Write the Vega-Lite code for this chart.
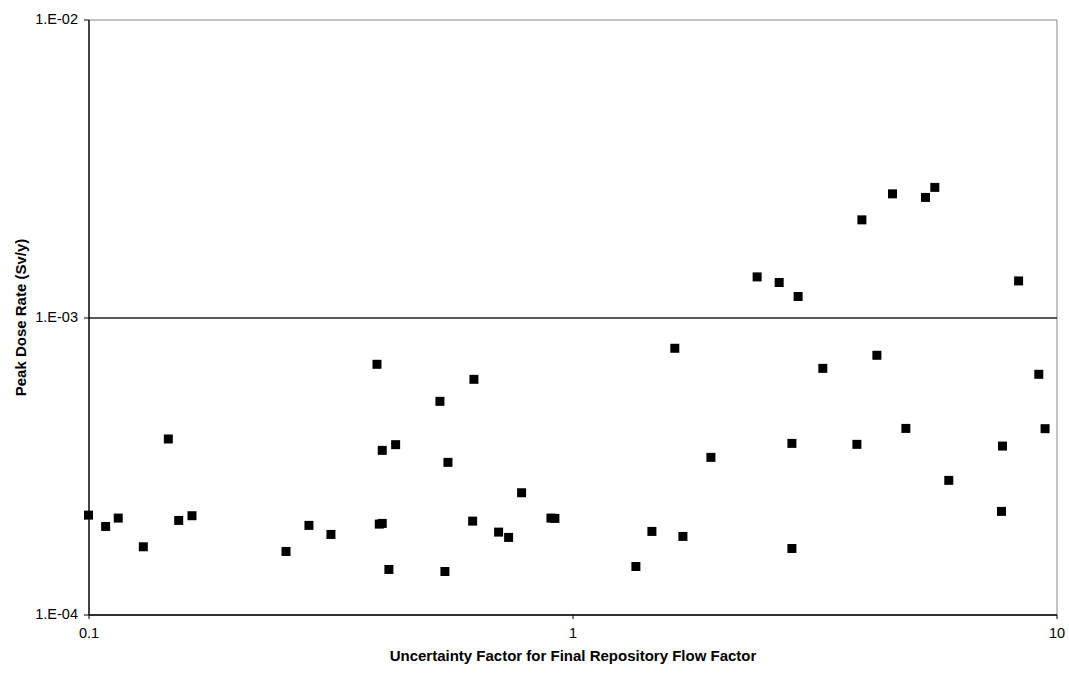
{
  "$schema": "https://vega.github.io/schema/vega-lite/v6.json",
  "width": 968,
  "height": 595,
  "autosize": {"type": "none"},
  "padding": {"left": 88.5, "top": 19.5, "right": 12, "bottom": 60},
  "background": "white",
  "config": {
    "view": {"stroke": "#868686", "strokeWidth": 1},
    "font": "Liberation Sans"
  },
  "data": {
    "values": [
      {"f": 0.1, "d": 0.0002158},
      {"f": 0.1085, "d": 0.0001977},
      {"f": 0.1152, "d": 0.0002109},
      {"f": 0.1298, "d": 0.0001689},
      {"f": 0.1462, "d": 0.000389},
      {"f": 0.1536, "d": 0.0002071},
      {"f": 0.1636, "d": 0.0002148},
      {"f": 0.2559, "d": 0.0001629},
      {"f": 0.2854, "d": 0.0001993},
      {"f": 0.3169, "d": 0.0001858},
      {"f": 0.3945, "d": 0.0006935},
      {"f": 0.3988, "d": 0.0002013},
      {"f": 0.4045, "d": 0.0002024},
      {"f": 0.4045, "d": 0.0003562},
      {"f": 0.4175, "d": 0.0001417},
      {"f": 0.4311, "d": 0.0003723},
      {"f": 0.5322, "d": 0.0005206},
      {"f": 0.545, "d": 0.0001395},
      {"f": 0.5529, "d": 0.0003246},
      {"f": 0.6257, "d": 0.0006173},
      {"f": 0.6218, "d": 0.000206},
      {"f": 0.7036, "d": 0.0001892},
      {"f": 0.7379, "d": 0.0001816},
      {"f": 0.7849, "d": 0.0002566},
      {"f": 0.9025, "d": 0.0002109},
      {"f": 0.9197, "d": 0.0002104},
      {"f": 1.352, "d": 0.000145},
      {"f": 1.459, "d": 0.0001902},
      {"f": 1.627, "d": 0.000785},
      {"f": 1.691, "d": 0.000183},
      {"f": 1.932, "d": 0.0003374},
      {"f": 2.407, "d": 0.001364},
      {"f": 2.673, "d": 0.001306},
      {"f": 2.84, "d": 0.0001667},
      {"f": 2.84, "d": 0.000376},
      {"f": 2.925, "d": 0.001172},
      {"f": 3.29, "d": 0.000672},
      {"f": 3.869, "d": 0.0003732},
      {"f": 3.962, "d": 0.002121},
      {"f": 4.255, "d": 0.0007436},
      {"f": 4.583, "d": 0.002594},
      {"f": 4.884, "d": 0.0004222},
      {"f": 5.362, "d": 0.002523},
      {"f": 5.605, "d": 0.002727},
      {"f": 5.99, "d": 0.0002824},
      {"f": 7.735, "d": 0.0003683},
      {"f": 7.698, "d": 0.0002221},
      {"f": 8.35, "d": 0.001322},
      {"f": 9.192, "d": 0.0006418},
      {"f": 9.471, "d": 0.0004213}
    ]
  },
  "mark": {"type": "square", "size": 81, "color": "black", "opacity": 1, "filled": true, "clip": false},
  "encoding": {
    "x": {
      "field": "f",
      "type": "quantitative",
      "scale": {"type": "log", "domain": [0.1, 10], "nice": false},
      "axis": {
        "title": "Uncertainty Factor for Final Repository Flow Factor",
        "values": [0.1, 1, 10],
        "labelExpr": "datum.value < 0.5 ? '0.1' : datum.value < 5 ? '1' : '10'",
        "labelFlush": false,
        "labelOverlap": false,
        "grid": false,
        "domainColor": "black",
        "domainWidth": 1.3,
        "tickColor": "black",
        "tickSize": 4,
        "labelPadding": 8,
        "labelFontSize": 14.5,
        "labelColor": "black",
        "labelFont": "Liberation Sans",
        "titleFont": "Liberation Sans",
        "titleFontSize": 15,
        "titleFontWeight": "bold",
        "titleColor": "black",
        "titlePadding": 8
      }
    },
    "y": {
      "field": "d",
      "type": "quantitative",
      "scale": {"type": "log", "domain": [0.0001, 0.01], "nice": false},
      "axis": {
        "title": "Peak Dose Rate (Sv/y)",
        "values": [0.0001, 0.001, 0.01],
        "labelExpr": "datum.value >= 0.005 ? '1.E-02' : datum.value >= 0.0005 ? '1.E-03' : '1.E-04'",
        "labelFlush": false,
        "labelOverlap": false,
        "grid": true,
        "gridColor": {"condition": {"test": "datum.value > 0.0005 && datum.value < 0.005", "value": "#222222"}, "value": "transparent"},
        "gridWidth": 1.3,
        "domainColor": "black",
        "domainWidth": 1.3,
        "tickColor": "black",
        "tickSize": 5,
        "labelPadding": 6,
        "labelFontSize": 14.5,
        "labelColor": "black",
        "labelFont": "Liberation Sans",
        "titleFont": "Liberation Sans",
        "titleFontSize": 15,
        "titleFontWeight": "bold",
        "titleColor": "black",
        "titlePadding": 6
      }
    }
  }
}
